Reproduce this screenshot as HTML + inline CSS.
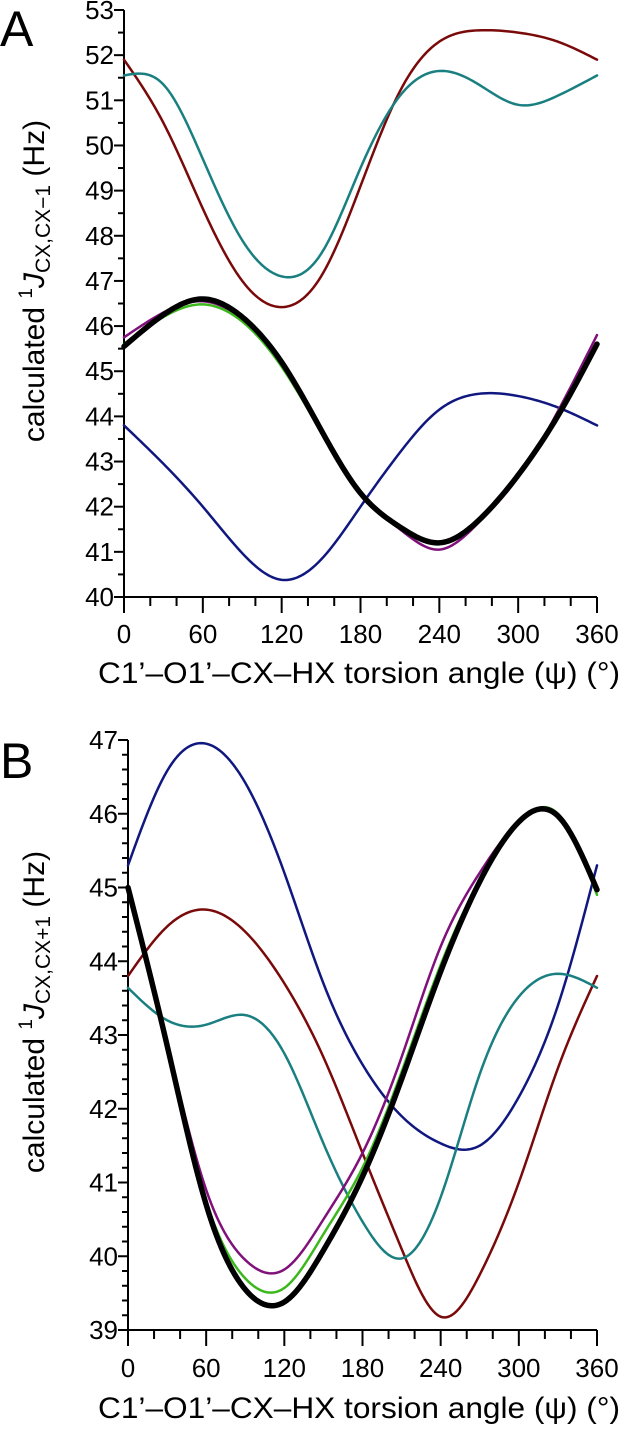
<!DOCTYPE html>
<html><head><meta charset="utf-8"><style>
body{margin:0;background:#fff;}
svg text{font-family:"Liberation Sans",Arial,sans-serif;fill:#000;}
</style></head><body>
<svg id="chart" width="625" height="1425" viewBox="0 0 625 1425" xmlns="http://www.w3.org/2000/svg">
<text x="0" y="46" font-size="50">A</text>
<text x="0" y="778" font-size="50">B</text>
<text transform="translate(44,281) rotate(-90)" text-anchor="middle" font-size="30">calculated <tspan font-size="19" dy="-12">1</tspan><tspan font-style="italic" dy="12">J</tspan><tspan font-size="21" dy="6">CX,CX−1</tspan><tspan dy="-6"> (Hz)</tspan></text>
<text transform="translate(44,1012) rotate(-90)" text-anchor="middle" font-size="30">calculated <tspan font-size="19" dy="-12">1</tspan><tspan font-style="italic" dy="12">J</tspan><tspan font-size="21" dy="6">CX,CX+1</tspan><tspan dy="-6"> (Hz)</tspan></text>
<text x="98" y="683" font-size="30" textLength="522" lengthAdjust="spacingAndGlyphs">C1’–O1’–CX–HX torsion angle (ψ) (°)</text>
<text x="98" y="1418" font-size="30" textLength="522" lengthAdjust="spacingAndGlyphs">C1’–O1’–CX–HX torsion angle (ψ) (°)</text>
</svg>
<script>
const xTicks=[0,60,120,180,240,300,360];
const aYTicks=[40,41,42,43,44,45,46,47,48,49,50,51,52,53];
const bYTicks=[39,40,41,42,43,44,45,46,47];
const angles=[0,30,60,90,120,150,180,210,240,270,300,330,360];
const aDarkRedY=[51.9,50.5,48.6,47.0,46.42,47.1,49.1,51.2,52.3,52.55,52.5,52.3,51.9];
const aTealY=[51.55,51.35,49.7,47.9,47.1,47.6,49.5,51.1,51.65,51.35,50.9,51.1,51.55];
const aNavyY=[43.8,42.95,42.0,40.97,40.38,40.83,42.0,43.2,44.15,44.5,44.45,44.2,43.8];
const aPurpleY=[45.75,46.3,46.55,46.15,45.15,43.7,42.3,41.5,41.05,41.65,42.65,44.1,45.8];
const aGreenY=[45.6,46.2,46.48,46.1,45.1,43.65,42.3,41.55,41.2,41.7,42.7,44.0,45.6];
const aBlackY=[45.55,46.25,46.6,46.2,45.2,43.7,42.3,41.55,41.2,41.7,42.7,44.0,45.6];
const bNavyY=[45.3,46.58,46.95,46.42,45.2,43.7,42.6,41.9,41.53,41.5,42.16,43.4,45.3];
const bDarkRedY=[43.8,44.47,44.7,44.4,43.7,42.7,41.4,40.1,39.18,39.75,41.0,42.55,43.8];
const bTealY=[43.64,43.2,43.14,43.27,42.75,41.53,40.47,39.97,40.8,42.47,43.52,43.83,43.64];
const bPurpleY=[45.0,42.9,40.9,39.95,39.82,40.5,41.4,42.7,44.2,45.2,45.9,46.0,45.0];
const bGreenY=[45.0,42.86,40.75,39.7,39.57,40.3,41.2,42.5,43.95,45.1,45.88,46.0,44.9];
const bBlackY=[45.0,42.86,40.7,39.55,39.38,40.08,41.08,42.4,43.86,45.08,45.89,45.97,44.97];

const svg=document.getElementById('chart');
const NS='http://www.w3.org/2000/svg';
function mk(t,a){const e=document.createElementNS(NS,t);for(const k in a)e.setAttribute(k,a[k]);svg.appendChild(e);return e;}
function axes(x0,x1,yTop,yBot,vmin,vmax){
  return {x:v=>x0+(v/360)*(x1-x0),y:v=>yBot-(v-vmin)/(vmax-vmin)*(yBot-yTop)};
}
function spline(xs,ys){
  const n=xs.length,h=[],al=[],l=[1],mu=[0],z=[0],c=new Array(n).fill(0),b=[],d=[];
  for(let i=0;i<n-1;i++)h.push(xs[i+1]-xs[i]);
  for(let i=1;i<n-1;i++)al[i]=3/h[i]*(ys[i+1]-ys[i])-3/h[i-1]*(ys[i]-ys[i-1]);
  for(let i=1;i<n-1;i++){l[i]=2*(xs[i+1]-xs[i-1])-h[i-1]*mu[i-1];mu[i]=h[i]/l[i];z[i]=(al[i]-h[i-1]*z[i-1])/l[i];}
  l[n-1]=1;z[n-1]=0;
  for(let j=n-2;j>=0;j--){c[j]=z[j]-mu[j]*c[j+1];b[j]=(ys[j+1]-ys[j])/h[j]-h[j]*(c[j+1]+2*c[j])/3;d[j]=(c[j+1]-c[j])/(3*h[j]);}
  return t=>{let j=0;while(j<n-2&&t>xs[j+1])j++;const dx=t-xs[j];return ys[j]+b[j]*dx+c[j]*dx*dx+d[j]*dx*dx*dx;};
}
function pathD(xs,ys,ax){
  const f=spline(xs,ys);let d='';
  for(let t=xs[0];t<=xs[xs.length-1]+1e-9;t+=2){d+=(d?' L':'M')+ax.x(t).toFixed(2)+','+ax.y(f(t)).toFixed(2);}
  return d;
}
function drawAxes(ax,x0,x1,yTop,yBot,yT,minorStep,labelY,prefix){
  let l=mk('line',{x1:x0,y1:yTop,x2:x0,y2:yBot,stroke:'#000','stroke-width':2});
  
  
  l=mk('line',{x1:x0,y1:yBot,x2:x1,y2:yBot,stroke:'#000','stroke-width':2});
  
  
  const vmin=yT[0],vmax=yT[yT.length-1];
  for(let v=vmin;v<=vmax+1e-6;v+=minorStep){
    const major=Math.abs(v-Math.round(v))<1e-6;
    const t=mk('line',{x1:x0-(major?10:6),x2:x0,y1:ax.y(v),y2:ax.y(v),stroke:'#000','stroke-width':2});
    
    
  }
  yT.forEach(v=>{const t=mk('text',{x:x0-10,y:ax.y(v)+9,'text-anchor':'end','font-size':26});t.textContent=v;
    
    });
  for(let v=0;v<=360;v+=20){
    const major=v%60===0;
    const t=mk('line',{x1:ax.x(v),x2:ax.x(v),y1:yBot,y2:yBot+(major?16:9),stroke:'#000','stroke-width':2});
    
    
  }
  xTicks.forEach(v=>{const t=mk('text',{x:ax.x(v),y:labelY,'text-anchor':'middle','font-size':26});t.textContent=v;
    
    });
}
function line(ys,ax,color,w,name){
  const p=mk('path',{d:pathD(angles,ys,ax),fill:'none',stroke:color,'stroke-width':w,'stroke-linecap':'round','stroke-linejoin':'round'});
  
  
}
const A=axes(124,597,10,597,40,53);
drawAxes(A,124,597,10,597,aYTicks,0.5,643,'panel-a');
line(aDarkRedY,A,'#7a0a0a',2.5,'panel-a-darkred-line');
line(aTealY,A,'#1a7f80',2.5,'panel-a-teal-line');
line(aNavyY,A,'#101880',2.5,'panel-a-navy-line');
line(aPurpleY,A,'#80107a',2.5,'panel-a-purple-line');
line(aGreenY,A,'#3cb81e',2.5,'panel-a-green-line');
line(aBlackY,A,'#000',5.5,'panel-a-black-line');
const B=axes(128,597,740,1330,39,47);
drawAxes(B,128,597,740,1330,bYTicks,0.2,1377,'panel-b');
line(bNavyY,B,'#101880',2.5,'panel-b-navy-line');
line(bDarkRedY,B,'#7a0a0a',2.5,'panel-b-darkred-line');
line(bTealY,B,'#1a7f80',2.5,'panel-b-teal-line');
line(bPurpleY,B,'#80107a',2.5,'panel-b-purple-line');
line(bGreenY,B,'#3cb81e',2.5,'panel-b-green-line');
line(bBlackY,B,'#000',5.5,'panel-b-black-line');
</script>
</body></html>
